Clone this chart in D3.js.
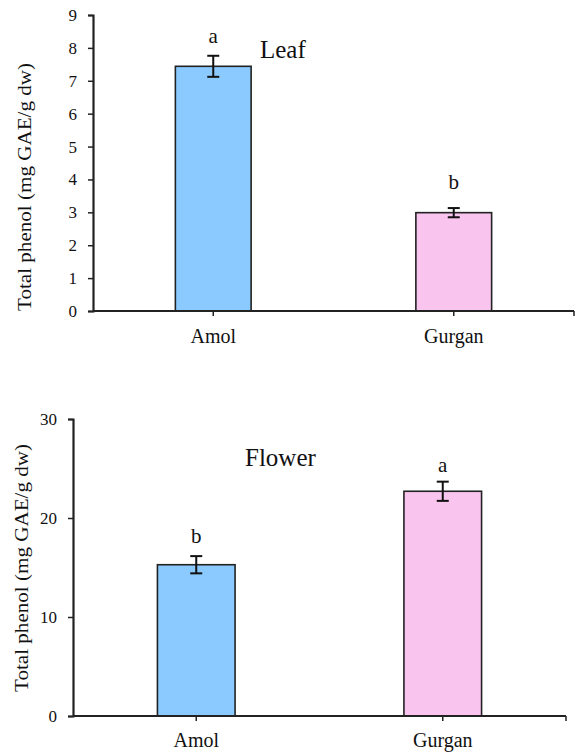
<!DOCTYPE html>
<html lang="en">
<head>
    <meta charset="UTF-8">
    <title>Total phenol</title>
    <script src="https://d3js.org/d3.v7.min.js"></script>
    <style>
        body { margin: 0; background: #fff; }
        .axis path, .axis line { stroke: #222; }
    </style>
</head>
<body>
    <div id="chart"></div>

    <script>
        // data
        const categories = ['Amol', 'Gurgan'];
        const barColors = ['#8ACAFE', '#F9C4EE'];

        const leafValues = [7.44, 2.99];
        const leafErrors = [0.32, 0.14];
        const leafLetters = ['a', 'b'];
        const leafTicks = [0, 1, 2, 3, 4, 5, 6, 7, 8, 9];

        const flowerValues = [15.28, 22.7];
        const flowerErrors = [0.87, 0.97];
        const flowerLetters = ['b', 'a'];
        const flowerTicks = [0, 10, 20, 30];

        const yTitle = 'Total phenol (mg GAE/g dw)';
        const serif = "'Liberation Serif', 'Times New Roman', Times, serif";

        const svg = d3.select('#chart')
                      .append('svg')
                      .attr('width', 576)
                      .attr('height', 755)
                      .attr('font-family', serif);

        // draw one bar panel
        function drawPanel(opts) {
            const x = d3.scaleBand()
                        .domain(categories)
                        .range([opts.left, opts.right])
                        .paddingInner(0.685)
                        .paddingOuter(0.3425);

            const y = d3.scaleLinear()
                        .domain([0, opts.max])
                        .range([opts.bottom, opts.top]);

            const g = svg.append('g');

            // bars
            g.selectAll('rect.bar')
             .data(opts.values)
             .enter().append('rect')
             .attr('class', 'bar')
             .attr('x', (d, i) => x(categories[i]))
             .attr('y', d => y(d))
             .attr('width', x.bandwidth())
             .attr('height', d => y(0) - y(d))
             .attr('fill', (d, i) => barColors[i])
             .attr('stroke', '#222')
             .attr('stroke-width', 1.6);

            // error bars
            const cx = i => x(categories[i]) + x.bandwidth() / 2;
            const err = g.append('g')
                         .attr('stroke', '#111')
                         .attr('stroke-width', 2);
            opts.values.forEach((v, i) => {
                const e = opts.errors[i];
                err.append('line')
                   .attr('x1', cx(i)).attr('x2', cx(i))
                   .attr('y1', y(v - e)).attr('y2', y(v + e));
                [v - e, v + e].forEach(t => {
                    err.append('line')
                       .attr('x1', cx(i) - 6).attr('x2', cx(i) + 6)
                       .attr('y1', y(t)).attr('y2', y(t));
                });
            });

            // significance letters
            g.selectAll('text.letter')
             .data(opts.letters)
             .enter().append('text')
             .attr('class', 'letter')
             .attr('x', (d, i) => cx(i))
             .attr('y', (d, i) => y(opts.values[i] + opts.errors[i]) - opts.letterGap[i])
             .attr('text-anchor', 'middle')
             .style('font-family', serif)
             .style('font-size', '21px')
             .attr('fill', '#111')
             .text(d => d);

            // y axis
            const yAxis = g.append('g')
                           .attr('class', 'axis')
                           .attr('transform', `translate(${opts.left},0)`)
                           .call(d3.axisLeft(y).tickValues(opts.ticks).tickSize(5).tickPadding(11));
            yAxis.selectAll('path').attr('stroke-width', 2.2);
            yAxis.selectAll('line').attr('stroke-width', 1.5);
            yAxis.selectAll('text')
                 .style('font-family', serif)
                 .style('font-size', '17px')
                 .attr('fill', '#111');

            // x axis line with ticks at categories and at the right end
            const xAxis = g.append('g')
                           .attr('class', 'axis')
                           .attr('transform', `translate(0,${opts.bottom})`);
            xAxis.append('line')
                 .attr('x1', opts.left).attr('x2', opts.right)
                 .attr('stroke-width', 2.2);
            const tickXs = categories.map((c, i) => cx(i)).concat([opts.right]);
            xAxis.selectAll('line.tick')
                 .data(tickXs)
                 .enter().append('line')
                 .attr('class', 'tick')
                 .attr('x1', d => d).attr('x2', d => d)
                 .attr('y1', 0).attr('y2', 5)
                 .attr('stroke-width', 1.5);
            xAxis.selectAll('text')
                 .data(categories)
                 .enter().append('text')
                 .attr('x', (d, i) => cx(i))
                 .attr('y', opts.labelDy)
                 .attr('text-anchor', 'middle')
                 .style('font-family', serif)
                 .style('font-size', '20px')
                 .attr('fill', '#111')
                 .text(d => d);

            // y title
            g.append('text')
             .attr('transform', `translate(${opts.titleX},${opts.titleY}) rotate(-90)`)
             .attr('text-anchor', 'middle')
             .attr('textLength', 248)
             .attr('lengthAdjust', 'spacingAndGlyphs')
             .style('font-family', serif)
             .style('font-size', '18px')
             .attr('fill', '#111')
             .text(yTitle);

            // panel name
            g.append('text')
             .attr('x', opts.nameX)
             .attr('y', opts.nameY)
             .style('font-family', serif)
             .style('font-size', '25px')
             .attr('fill', '#111')
             .text(opts.name);
        }

        drawPanel({
            name: 'Leaf', values: leafValues, errors: leafErrors, letters: leafLetters,
            ticks: leafTicks, max: 9,
            left: 93, right: 574, top: 15, bottom: 311,
            letterGap: [13, 19], labelDy: 32,
            titleX: 31, titleY: 187, nameX: 260, nameY: 58
        });

        drawPanel({
            name: 'Flower', values: flowerValues, errors: flowerErrors, letters: flowerLetters,
            ticks: flowerTicks, max: 30,
            left: 73, right: 566, top: 419, bottom: 716,
            letterGap: [13, 10], labelDy: 31,
            titleX: 28, titleY: 568, nameX: 245, nameY: 466
        });
    </script>
</body>
</html>
